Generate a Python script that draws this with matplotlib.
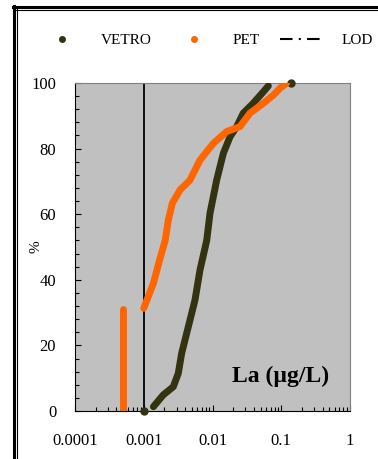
import numpy as np
import matplotlib
matplotlib.use("Agg")
import matplotlib.pyplot as plt
from matplotlib.lines import Line2D
from matplotlib.ticker import LogLocator, FixedLocator, NullFormatter

# VETRO cumulative distribution (La, ug/L vs %)
vetro_x = [0.00138, 0.00192, 0.00269, 0.00318, 0.00356, 0.00445, 0.00556, 0.00658,
           0.00824, 0.0092, 0.0115, 0.0144, 0.018, 0.0225, 0.028, 0.039, 0.0548, 0.0649]
vetro_y = [1.3, 4.9, 7.4, 11.5, 17.6, 25.7, 33.8, 43.0,
           52.0, 60.3, 70.4, 78.6, 83.6, 86.7, 90.8, 93.8, 97.3, 99.1]
vetro_lod_x = [0.001]
vetro_lod_y = [0.0]
vetro_max_x = [0.137]
vetro_max_y = [100.0]

# PET: values < LOD reported as LOD/2
pet_low_x = [0.0005, 0.0005]
pet_low_y = [0.0, 31.0]
pet_x = [0.001, 0.00138, 0.0017, 0.00205, 0.00228, 0.0026, 0.00337, 0.00471, 0.00658,
         0.0103, 0.0161, 0.0251, 0.0351, 0.0548, 0.0767, 0.096, 0.12]
pet_y = [31.3, 38.9, 46.0, 52.0, 58.2, 63.3, 67.4, 70.4, 76.5,
         81.6, 85.2, 86.7, 90.8, 93.8, 96.3, 98.4, 100.0]

lod = 0.001
x_ticks = [0.0001, 0.001, 0.01, 0.1, 1]
x_labels = ["0.0001", "0.001", "0.01", "0.1", "1"]
y_ticks = [0, 20, 40, 60, 80, 100]

dark = "#333311"
orange = "#ff6600"
serif = ["Liberation Serif", "DejaVu Serif"]

fig = plt.figure(figsize=(3.78, 4.59), dpi=100)
ax = fig.add_axes([75 / 378, 1 - 411 / 459, 275 / 378, 328 / 459])
ax.set_facecolor("#c0c0c0")

ax.axvline(lod, color="black", lw=1.3, zorder=2)

ax.plot(pet_low_x, pet_low_y, color=orange, lw=5, solid_capstyle="round", zorder=3)
ax.plot(pet_x, pet_y, color=orange, lw=5, solid_capstyle="round", zorder=4)
ax.plot(vetro_x, vetro_y, color=dark, lw=5, solid_capstyle="round", zorder=3)
ax.plot(vetro_lod_x, vetro_lod_y, "o", color=dark, ms=5, zorder=3, clip_on=False)
ax.plot(vetro_max_x, vetro_max_y, "o", color=dark, ms=5, zorder=3, clip_on=False)

ax.set_xscale("log")
ax.set_xlim(0.0001, 1)
ax.set_ylim(0, 100)
ax.xaxis.set_major_locator(FixedLocator(x_ticks))
ax.set_xticklabels(x_labels)
ax.xaxis.set_minor_locator(LogLocator(base=10, subs=np.arange(2, 10), numticks=20))
ax.xaxis.set_minor_formatter(NullFormatter())
ax.set_yticks(y_ticks)
ax.yaxis.set_minor_locator(FixedLocator(np.arange(0, 101, 4)))

ax.tick_params(axis="both", which="both", direction="in", color="black")
ax.tick_params(axis="both", which="major", length=4, width=0.8)
ax.tick_params(axis="both", which="minor", length=3, width=0.8)
ax.tick_params(axis="y", which="major", pad=13.5)
ax.tick_params(axis="x", which="major", pad=16)
for lab in ax.get_xticklabels() + ax.get_yticklabels():
    lab.set_fontfamily(serif)
    lab.set_fontsize(12)

ax.spines["left"].set_color("black")
ax.spines["bottom"].set_color("black")
ax.spines["top"].set_color("#808080")
ax.spines["right"].set_color("#808080")

ax.set_ylabel("%", fontfamily=serif, fontsize=11)
ax.yaxis.set_label_coords(-0.12, 0.5)

ax.text(0.749, 0.104, "La (µg/L)", transform=ax.transAxes, ha="center", va="center",
        fontfamily=serif, fontweight="bold", fontsize=17)

handles = [
    Line2D([], [], marker="o", ls="none", color=dark, ms=4),
    Line2D([], [], marker="o", ls="none", color=orange, ms=4),
    Line2D([], [], color="black", ls=(0, (6, 3, 1, 3)), lw=1.5),
]
fig.legend(handles, ["VETRO", "PET", "LOD"], loc="center left",
           bbox_to_anchor=(40 / 378, 1 - 40 / 459),
           ncol=3, frameon=False, prop={"family": serif, "size": 11},
           handlelength=2.9, columnspacing=1.3, handletextpad=1.1,
           borderpad=0, borderaxespad=0)

# frame of the original figure (left and top borders)
fig.add_artist(Line2D([13.5 / 378, 13.5 / 378], [0, 1 - 6 / 459], color="black", lw=2.2))
fig.add_artist(Line2D([16.5 / 378, 16.5 / 378], [0, 1 - 9 / 459], color="black", lw=0.8))
fig.add_artist(Line2D([12.5 / 378, 1], [1 - 6.5 / 459, 1 - 6.5 / 459], color="black", lw=2.2))
fig.add_artist(Line2D([16 / 378, 1], [1 - 9.5 / 459, 1 - 9.5 / 459], color="black", lw=0.8))

fig.savefig("out.png", dpi=100)
